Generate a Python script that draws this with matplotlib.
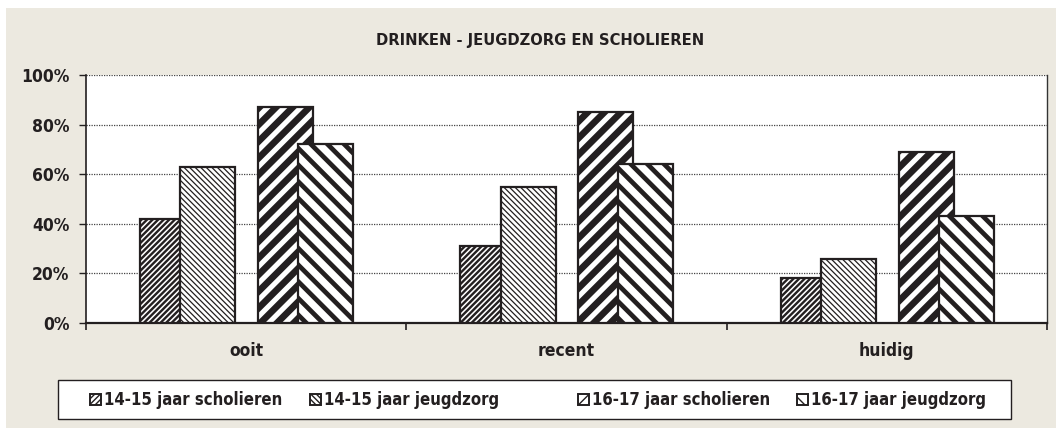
import matplotlib
matplotlib.use('Agg')
import matplotlib.pyplot as plt
from matplotlib.patches import Rectangle
import numpy as np

# chart data
categories = ['ooit', 'recent', 'huidig']
series_names = ['14-15 jaar scholieren', '14-15 jaar jeugdzorg',
                '16-17 jaar scholieren', '16-17 jaar jeugdzorg']
scholieren_1415 = [42, 31, 18]
jeugdzorg_1415 = [63, 55, 26]
scholieren_1617 = [87, 85, 69]
jeugdzorg_1617 = [72, 64, 43]
yticks = [0, 20, 40, 60, 80, 100]
title = 'DRINKEN - JEUGDZORG EN SCHOLIEREN'

values = [scholieren_1415, jeugdzorg_1415, scholieren_1617, jeugdzorg_1617]

# styling
dark = '#231f20'
beige = '#ece9e0'
offsets = [-0.245, -0.12, 0.123, 0.248]
bar_w = 0.172
hatches = ['//////', '\\' * 6, '//', '\\\\']
hatch_lws = [1.7, 0.9, 4.8, 3.4]
legend_x = [90, 310, 578, 797]  # left edge of each legend entry (px)

plt.rcParams['font.family'] = 'DejaVu Sans'
plt.rcParams['font.stretch'] = 'condensed'
plt.rcParams['font.weight'] = 'bold'


def set_hlw(patch, lw):
    if hasattr(patch, 'set_hatch_linewidth'):
        patch.set_hatch_linewidth(lw)


fig = plt.figure(figsize=(10.56, 4.28), dpi=100, facecolor='white')
fig.patches.append(Rectangle((6 / 1056, 0), 1, 420 / 428, transform=fig.transFigure,
                             facecolor=beige, edgecolor='none', zorder=-10))

ax = fig.add_axes([86 / 1056, 1 - 323 / 428, 961 / 1056, 248 / 428])
ax.set_facecolor('white')

x = np.arange(len(categories))
for i, vals in enumerate(values):
    with plt.rc_context({'hatch.linewidth': hatch_lws[i]}):
        bars = ax.bar(x + offsets[i], vals, width=bar_w, facecolor='white',
                      edgecolor=dark, linewidth=1.6, hatch=hatches[i], zorder=3 + i)
    for b in bars:
        set_hlw(b, hatch_lws[i])

ax.set_xlim(-0.5, 2.5)
ax.set_ylim(0, 100)
ax.set_yticks(yticks)
ax.set_yticklabels([f'{v}%' for v in yticks], fontsize=12.5, fontweight='bold', color=dark)
ax.yaxis.grid(True, linestyle=(0, (1, 1)), color='#444444', linewidth=0.9, zorder=1)
ax.set_axisbelow(True)

ax.set_xticks(x)
ax.set_xticklabels(categories, fontsize=12.5, fontweight='bold', color=dark)
ax.set_xticks([-0.5, 0.5, 1.5, 2.5], minor=True)
ax.tick_params(axis='x', which='major', length=0, pad=14)
ax.tick_params(axis='x', which='minor', length=5, direction='out', color=dark, width=1.2)
ax.tick_params(axis='y', length=5, direction='out', color=dark, width=1, pad=7)

ax.spines['top'].set_visible(False)
ax.spines['right'].set_color('#333333')
ax.spines['right'].set_linewidth(1)
ax.spines['left'].set_color(dark)
ax.spines['left'].set_linewidth(1.2)
ax.spines['bottom'].set_color(dark)
ax.spines['bottom'].set_linewidth(1.6)

fig.text(540 / 1056, 1 - 40 / 428, title, ha='center', va='center',
         fontsize=11.8, fontweight='bold', color=dark)

# legend box
fig.patches.append(Rectangle((58 / 1056, 1 - 419 / 428), 953 / 1056, 39 / 428,
                             transform=fig.transFigure, facecolor='white',
                             edgecolor=dark, linewidth=1, zorder=1))
legend_y = 1 - 400 / 428
for i in range(4):
    with plt.rc_context({'hatch.linewidth': hatch_lws[i] * 0.5}):
        h = Rectangle((0, 0), 1, 1, facecolor='white', edgecolor=dark,
                      linewidth=1.4, hatch=hatches[i])
    set_hlw(h, hatch_lws[i] * 0.5)
    leg = fig.legend([h], [series_names[i]], loc='center left',
                     bbox_to_anchor=(legend_x[i] / 1056, legend_y),
                     frameon=False, handlelength=0.65, handleheight=0.65,
                     handletextpad=0.2, borderaxespad=0, borderpad=0,
                     prop={'weight': 'bold', 'size': 12})
    for t in leg.get_texts():
        t.set_color(dark)

fig.savefig('out.png', dpi=100)
